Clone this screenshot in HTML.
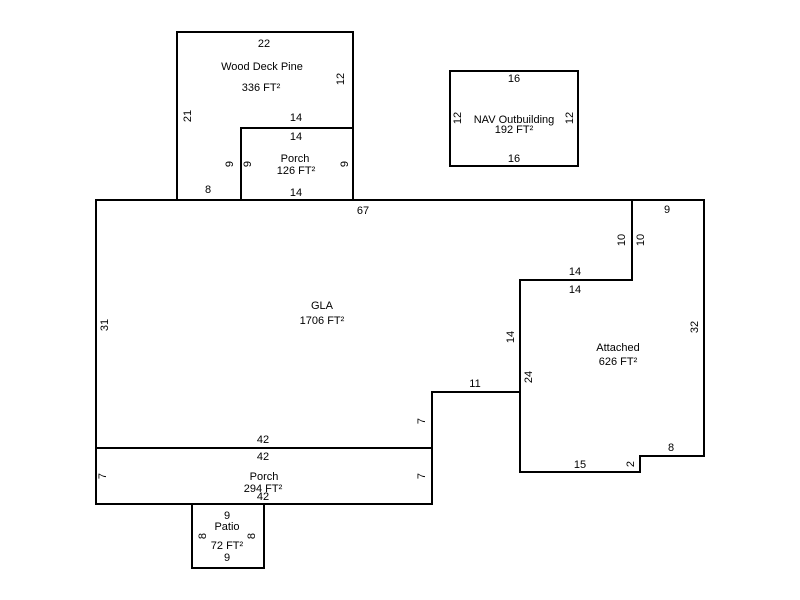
<!DOCTYPE html>
<html><head><style>body{margin:0;background:#fff}svg{display:block}text{font-family:"Liberation Sans",Arial,sans-serif;font-size:11px;fill:#000}</style></head><body>
<svg width="800" height="600" viewBox="0 0 800 600">
<g fill="none" stroke="#000" stroke-width="2">
<rect x="177" y="32" width="176" height="168"/>
<rect x="241" y="128" width="112" height="72"/>
<rect x="450" y="71" width="128" height="95"/>
<polygon points="96,200 632,200 632,280 520,280 520,392 432,392 432,448 96,448"/>
<polygon points="632,200 704,200 704,456 640,456 640,472 520,472 520,280 632,280"/>
<rect x="96" y="448" width="336" height="56"/>
<rect x="192" y="504" width="72" height="64"/>
</g>
<g text-anchor="middle">
<text x="264" y="47">22</text>
<text x="262" y="70">Wood Deck Pine</text>
<text x="261" y="91">336 FT²</text>
<text x="296" y="121">14</text>
<text x="296" y="140">14</text>
<text x="295" y="162">Porch</text>
<text x="296" y="174">126 FT²</text>
<text x="296" y="196">14</text>
<text x="208" y="193">8</text>
<text x="363" y="214">67</text>
<text x="514" y="82">16</text>
<text x="514" y="123">NAV Outbuilding</text>
<text x="514" y="133">192 FT²</text>
<text x="514" y="162">16</text>
<text x="667" y="213">9</text>
<text x="575" y="275">14</text>
<text x="575" y="293">14</text>
<text x="322" y="309">GLA</text>
<text x="322" y="324">1706 FT²</text>
<text x="618" y="351">Attached</text>
<text x="618" y="365">626 FT²</text>
<text x="475" y="387">11</text>
<text x="263" y="443">42</text>
<text x="263" y="460">42</text>
<text x="264" y="480">Porch</text>
<text x="263" y="492">294 FT²</text>
<text x="263" y="500">42</text>
<text x="580" y="468">15</text>
<text x="671" y="451">8</text>
<text x="227" y="519">9</text>
<text x="227" y="530">Patio</text>
<text x="227" y="549">72 FT²</text>
<text x="227" y="561">9</text>
<text transform="translate(191,116) rotate(-90)">21</text>
<text transform="translate(344,79) rotate(-90)">12</text>
<text transform="translate(233,164) rotate(-90)">9</text>
<text transform="translate(251,164) rotate(-90)">9</text>
<text transform="translate(348,164) rotate(-90)">9</text>
<text transform="translate(461,118) rotate(-90)">12</text>
<text transform="translate(573,118) rotate(-90)">12</text>
<text transform="translate(625,240) rotate(-90)">10</text>
<text transform="translate(644,240) rotate(-90)">10</text>
<text transform="translate(698,327) rotate(-90)">32</text>
<text transform="translate(514,337) rotate(-90)">14</text>
<text transform="translate(532,377) rotate(-90)">24</text>
<text transform="translate(108,325) rotate(-90)">31</text>
<text transform="translate(425,421) rotate(-90)">7</text>
<text transform="translate(106,476) rotate(-90)">7</text>
<text transform="translate(425,476) rotate(-90)">7</text>
<text transform="translate(634,464) rotate(-90)">2</text>
<text transform="translate(206,536) rotate(-90)">8</text>
<text transform="translate(255,536) rotate(-90)">8</text>
</g>
</svg>
</body></html>
